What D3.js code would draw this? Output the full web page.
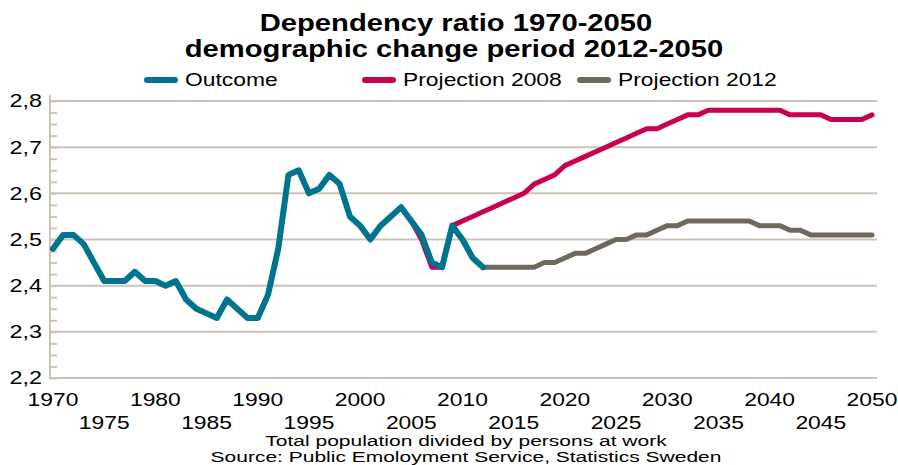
<!DOCTYPE html>
<html>
<head>
<meta charset="utf-8">
<script src="https://cdn.jsdelivr.net/npm/d3@7"></script>
<style>
  body { margin: 0; background: #fff; }
  text { font-family: "Liberation Sans", Arial, sans-serif; fill: #000; }
</style>
</head>
<body>
<script>
// dependency ratio
var outcomeStart = 1970;
var outcome = [2.48, 2.51, 2.51, 2.49, 2.45, 2.41, 2.41, 2.41, 2.43, 2.41,
               2.41, 2.40, 2.41, 2.37, 2.35, 2.34, 2.33, 2.37, 2.35, 2.33,
               2.33, 2.38, 2.48, 2.64, 2.65, 2.60, 2.61, 2.64, 2.62, 2.55,
               2.53, 2.50, 2.53, 2.55, 2.57, 2.54, 2.51, 2.45, 2.44, 2.53,
               2.50, 2.46, 2.44];

var proj2008Start = 2004;
var proj2008 = [2.57, 2.54, 2.50, 2.44, 2.44, 2.53,
                2.54, 2.55, 2.56, 2.57, 2.58, 2.59, 2.60, 2.62, 2.63, 2.64,
                2.66, 2.67, 2.68, 2.69, 2.70, 2.71, 2.72, 2.73, 2.74, 2.74,
                2.75, 2.76, 2.77, 2.77, 2.78, 2.78, 2.78, 2.78, 2.78, 2.78,
                2.78, 2.78, 2.77, 2.77, 2.77, 2.77, 2.76, 2.76, 2.76, 2.76,
                2.77];

var proj2012Start = 2012;
var proj2012 = [2.44, 2.44, 2.44, 2.44, 2.44, 2.44, 2.45, 2.45,
                2.46, 2.47, 2.47, 2.48, 2.49, 2.50, 2.50, 2.51, 2.51, 2.52,
                2.53, 2.53, 2.54, 2.54, 2.54, 2.54, 2.54, 2.54, 2.54, 2.53,
                2.53, 2.53, 2.52, 2.52, 2.51, 2.51, 2.51, 2.51, 2.51, 2.51,
                2.51];

var yTicks = [2.2, 2.3, 2.4, 2.5, 2.6, 2.7, 2.8];
var xTicks = [1970, 1975, 1980, 1985, 1990, 1995, 2000, 2005, 2010, 2015,
              2020, 2025, 2030, 2035, 2040, 2045, 2050];

var W = 898, H = 465;
var svg = d3.select("body").append("svg")
    .attr("width", W)
    .attr("height", H);

var x = d3.scaleLinear().domain([1970, 2050]).range([53, 872]);
var y = d3.scaleLinear().domain([2.2, 2.8]).range([378, 101]);
var gridColor = "#cbc3b7";

// the original picture is stretched sideways, so text is too
function place(px, py, sx) {
  return "translate(" + px + "," + py + ") scale(" + sx + ",1)";
}

// title
svg.append("text")
   .attr("transform", place(456, 31, 1.27))
   .attr("text-anchor", "middle")
   .style("font-size", "23px").style("font-weight", "bold")
   .text("Dependency ratio 1970-2050");
svg.append("text")
   .attr("transform", place(454, 57, 1.27))
   .attr("text-anchor", "middle")
   .style("font-size", "23px").style("font-weight", "bold")
   .text("demographic change period 2012-2050");

// horizontal grid
svg.append("g").selectAll("line")
   .data(yTicks).enter().append("line")
   .attr("x1", 50).attr("x2", 877)
   .attr("y1", function(d){ return y(d); })
   .attr("y2", function(d){ return y(d); })
   .attr("stroke", gridColor).attr("stroke-width", 2);

// left axis with minor ticks
var yAxis = d3.axisRight(y)
    .tickValues(d3.range(2.2, 2.8001, 0.025))
    .tickSize(7).tickFormat("");
var ya = svg.append("g").attr("transform", "translate(50,0)").call(yAxis);
ya.selectAll("line").attr("stroke", gridColor).attr("stroke-width", 2);
ya.select(".domain").remove();
svg.append("line")
   .attr("x1", 50).attr("x2", 50).attr("y1", 95).attr("y2", 379)
   .attr("stroke", gridColor).attr("stroke-width", 2);

svg.append("g").selectAll("text")
   .data(yTicks).enter().append("text")
   .attr("transform", function(d){ return place(42, y(d), 1.3); })
   .attr("dy", "0.36em")
   .attr("text-anchor", "end")
   .style("font-size", "18px")
   .text(function(d){ return d3.format(".1f")(d).replace(".", ","); });

// x labels, two rows
svg.append("g").selectAll("text")
   .data(xTicks).enter().append("text")
   .attr("transform", function(d){ return place(x(d), d % 10 === 0 ? 406 : 429, 1.27); })
   .attr("text-anchor", "middle")
   .style("font-size", "18px")
   .text(function(d){ return d; });

function series(start, vals) {
  return vals.map(function(v, i){ return [start + i, v]; });
}
var line = d3.line()
    .x(function(d){ return x(d[0]); })
    .y(function(d){ return y(d[1]); });

var lines = [
  {name: "Projection 2008", data: series(proj2008Start, proj2008), color: "#c8004f", w: 5},
  {name: "Projection 2012", data: series(proj2012Start, proj2012), color: "#6f685d", w: 5},
  {name: "Outcome", data: series(outcomeStart, outcome), color: "#00748f", w: 6}
];

svg.append("g").selectAll("path")
   .data(lines).enter().append("path")
   .attr("d", function(d){ return line(d.data); })
   .attr("fill", "none")
   .attr("stroke", function(d){ return d.color; })
   .attr("stroke-width", function(d){ return d.w; })
   .attr("stroke-linejoin", "round")
   .attr("stroke-linecap", "round");

// legend
var legend = [
  {name: "Outcome", color: "#00748f", at: 147},
  {name: "Projection 2008", color: "#c8004f", at: 365},
  {name: "Projection 2012", color: "#6f685d", at: 580}
];
var lg = svg.append("g").selectAll("g")
   .data(legend).enter().append("g")
   .attr("transform", function(d){ return "translate(" + d.at + ",80)"; });
lg.append("line")
  .attr("x1", 0).attr("x2", 28)
  .attr("stroke", function(d){ return d.color; })
  .attr("stroke-width", 6).attr("stroke-linecap", "round");
lg.append("text")
  .attr("transform", place(38, 0, 1.27))
  .attr("dy", "0.36em")
  .style("font-size", "18px")
  .text(function(d){ return d.name; });

// footer
svg.append("text")
   .attr("transform", place(466, 446, 1.4))
   .attr("text-anchor", "middle")
   .style("font-size", "15px")
   .text("Total population divided by persons at work");
svg.append("text")
   .attr("transform", place(466, 462, 1.4))
   .attr("text-anchor", "middle")
   .style("font-size", "15px")
   .text("Source: Public Emoloyment Service, Statistics Sweden");
</script>
</body>
</html>
